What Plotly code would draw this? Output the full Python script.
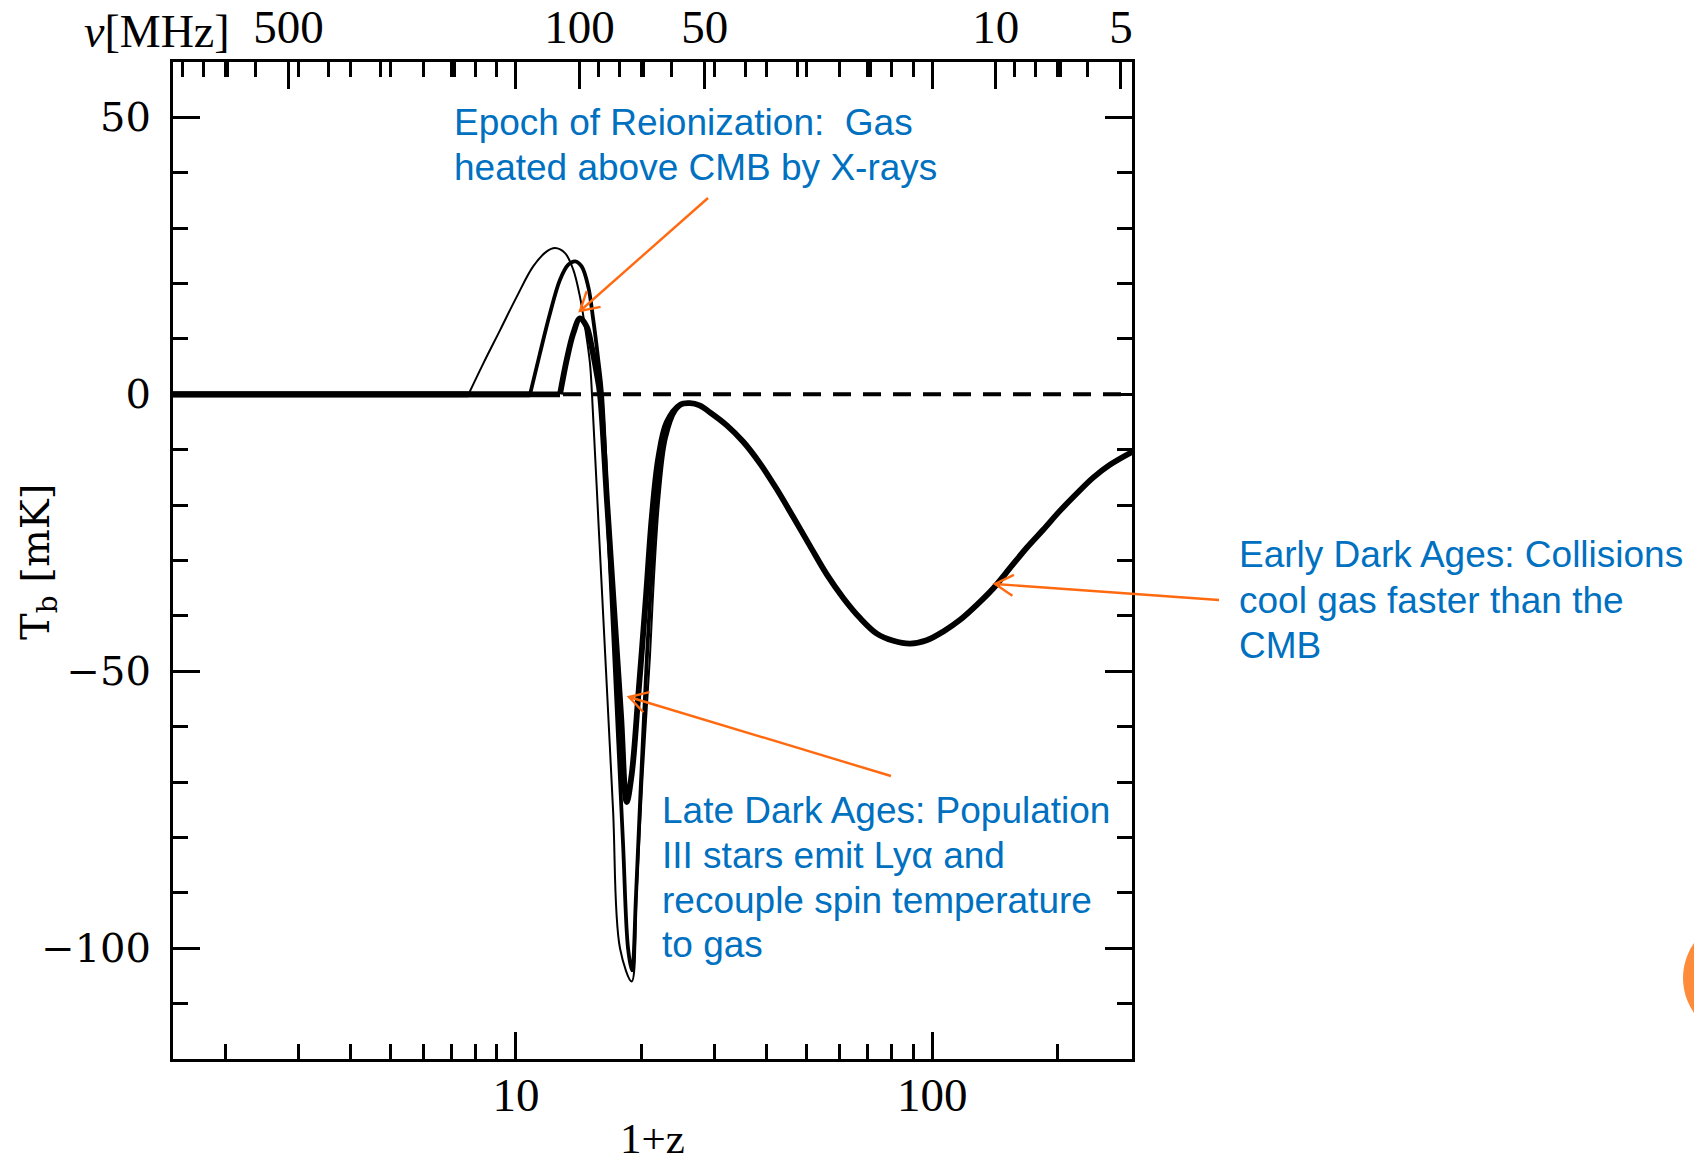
import math
import plotly.graph_objects as go

# ---------------- data ----------------
NU21 = 1420.4          # MHz, rest frequency of the 21-cm line
X_MIN, X_MAX = 1.5, 302
Y_MIN, Y_MAX = -120, 60

# common tail (Dark Ages part, identical for all models)
z_tail = [27.6, 29.3, 32.1, 35.2, 38.6, 42.3, 46.4, 50.9, 55.8, 61.2, 67.1, 73.6, 80.7,
          88.5, 97.0, 106.4, 116.7, 128.0, 140.3, 154.0, 168.7, 185.0, 202.9, 222.5,
          244.0, 267.5, 302.0]
T_tail = [-2.0, -3.3, -5.6, -8.6, -12.5, -17.1, -22.2, -27.4, -32.5, -36.8, -40.4, -43.2, -44.5,
          -45.0, -44.4, -42.8, -40.7, -38.0, -35.0, -31.3, -27.7, -24.4, -21.0, -17.9,
          -15.0, -12.7, -10.4]

# thin curve (earliest heating)
z_thin = [1.5, 7.69, 8.35, 9.16, 10.04, 11.0, 11.86, 12.41, 13.12, 13.73, 14.25, 14.65,
          15.06, 15.23, 15.83, 16.46, 17.11, 17.78, 18.97, 19.50, 20.16, 20.99, 21.46,
          22.11, 23.03, 24.33, 25.72]
T_thin = [0, 0, 5.6, 11.6, 17.6, 23.1, 25.8, 26.4, 25.5, 22.5, 17.6, 12.2,
          5.6, 0.0, -25, -50, -75, -100, -106, -90, -68.6, -47.2, -32.9,
          -18.7, -8.0, -3.0, -1.6]

# medium curve
z_med = [1.5, 10.81, 11.42, 12.07, 12.76, 13.36, 13.87, 14.38, 14.92, 15.34, 15.77,
         16.10, 16.73, 17.39, 18.08, 18.59, 19.00, 19.44, 19.97, 20.65, 21.17, 21.83,
         22.75, 23.98, 25.34]
T_med = [0, 0, 7.4, 14.6, 20.7, 23.4, 24.0, 23.1, 19.4, 13.4, 6.2,
         0.0, -27, -54, -81, -100, -104, -90, -70, -47, -33, -18.7,
         -8.0, -3.0, -1.6]

# thick curve (latest heating)
z_thick = [1.5, 12.76, 13.24, 13.73, 14.25, 14.79, 15.20, 15.63, 15.92, 16.55, 17.20,
           17.88, 18.45, 18.97, 19.68, 20.53, 21.20, 21.98, 23.01, 24.77, 26.2]
T_thick = [0, 0, 6.2, 11.0, 13.7, 12.2, 8.6, 3.8, 0.0, -19.3, -38.5,
           -57.8, -73.6, -68.6, -54.3, -36.5, -22.2, -11.5, -5.1, -1.9, -1.6]

zero_z = [X_MIN, X_MAX]
zero_T = [0, 0]

# axis ticks
x_major = [10, 100]
x_major_text = ["10", "100"]
x_minor = [2, 3, 4, 5, 6, 7, 8, 9, 20, 30, 40, 50, 60, 70, 80, 90, 200]
nu_major = [500, 100, 50, 10, 5]
nu_minor = [900, 800, 700, 600, 400, 300, 200, 90, 80, 70, 60, 40, 30, 20, 9, 8, 7, 6]
y_major = [-100, -50, 0, 50]
y_major_text = ["\u2212100", "\u221250", "0", "50"]
y_minor = [-120, -110, -90, -80, -70, -60, -40, -30, -20, -10, 10, 20, 30, 40, 60]

# ---------------- geometry helpers (layout only) ----------------
W, H = 1694, 1161
L_, R_, T_, B_ = 173, 1132, 62, 1059


def px(x):
    return (x - L_) / (R_ - L_)


def py(y):
    return (B_ - y) / (B_ - T_)


fig = go.Figure()

for zz, TT, w in [(z_thin + z_tail, T_thin + T_tail, 2.0),
                  (z_med + z_tail, T_med + T_tail, 3.8),
                  (z_thick + z_tail, T_thick + T_tail, 5.8)]:
    # flat (zero) part before heating starts
    fig.add_trace(go.Scatter(x=zz[:2], y=TT[:2], mode="lines",
                             line=dict(color="black", width=5.6),
                             hoverinfo="skip", showlegend=False))
    # signal
    fig.add_trace(go.Scatter(x=zz[1:], y=TT[1:], mode="lines",
                             line=dict(color="black", width=w, shape="spline", smoothing=1.0),
                             hoverinfo="skip", showlegend=False))

fig.add_trace(go.Scatter(x=zero_z, y=zero_T, xaxis="x2", mode="lines",
                         line=dict(color="black", width=4, dash="18px,12px"),
                         hoverinfo="skip", showlegend=False))

xr = [math.log10(X_MIN), math.log10(X_MAX)]
serif_x = dict(family="Liberation Serif", size=47, color="black")
serif_y = dict(family="DejaVu Serif", size=40, color="black")

fig.update_layout(
    width=W, height=H,
    margin=dict(l=L_, r=W - R_, t=T_, b=H - B_, autoexpand=False),
    paper_bgcolor="white", plot_bgcolor="white", showlegend=False,
    xaxis=dict(type="log", range=xr, showline=True, linecolor="black", linewidth=3,
               mirror="ticks", ticks="inside", ticklen=27, tickwidth=3, tickcolor="black",
               tickmode="array", tickvals=x_major, ticktext=x_major_text,
               tickfont=serif_x, ticklabelstandoff=-7,
               minor=dict(ticks="inside", ticklen=15, tickwidth=3, tickcolor="black",
                          tickvals=x_minor, showgrid=False),
               showgrid=False, zeroline=False),
    xaxis2=dict(type="log", range=xr, overlaying="x", side="top", showline=False,
                ticks="inside", ticklen=27, tickwidth=3, tickcolor="black",
                tickmode="array", tickvals=[NU21 / n for n in nu_major],
                ticktext=[str(n) for n in nu_major], tickfont=serif_x,
                ticklabelstandoff=9,
                minor=dict(ticks="inside", ticklen=15, tickwidth=3, tickcolor="black",
                           tickvals=[NU21 / n for n in nu_minor], showgrid=False),
                showgrid=False, zeroline=False),
    yaxis=dict(range=[Y_MIN, Y_MAX], showline=True, linecolor="black", linewidth=3,
               mirror="ticks", ticks="inside", ticklen=27, tickwidth=3, tickcolor="black",
               tickmode="array", tickvals=y_major, ticktext=y_major_text,
               tickfont=serif_y, ticklabelstandoff=11,
               minor=dict(ticks="inside", ticklen=15, tickwidth=3, tickcolor="black",
                          tickvals=y_minor, showgrid=False),
               showgrid=False, zeroline=False),
)

ann = []
# axis titles
ann.append(dict(text="1+z", x=0.5, y=py(1138), xref="paper", yref="paper",
                xanchor="center", yanchor="middle", showarrow=False,
                font=dict(family="Liberation Serif", size=43, color="black")))
ann.append(dict(text="T<sub>b</sub> [mK]", x=px(38), y=py(562), xref="paper", yref="paper",
                xanchor="center", yanchor="middle", showarrow=False, textangle=-90,
                font=dict(family="DejaVu Serif", size=40, color="black")))
ann.append(dict(text="<i>\u03bd</i>[MHz]", x=px(232), y=py(32), xref="paper", yref="paper",
                xanchor="right", yanchor="middle", showarrow=False,
                font=dict(family="Liberation Serif", size=46, color="black")))

BLUE = "#0070C0"
ORANGE = "#FF6A10"
blue_font = dict(family="Liberation Sans, Arial", size=37, color=BLUE)


def lines(x0, ys, texts):
    for y, t in zip(ys, texts):
        ann.append(dict(text=t, x=px(x0), y=py(y), xref="paper", yref="paper",
                        xanchor="left", yanchor="middle", showarrow=False, font=blue_font))


lines(452, [122, 167], ["Epoch of Reionization:  Gas", "heated above CMB by X-rays"])
lines(660, [810, 855, 900, 944], ["Late Dark Ages: Population", "III stars emit Ly\u03b1 and",
                                   "recouple spin temperature", "to gas"])
lines(1237, [554, 600, 645], ["Early Dark Ages: Collisions", "cool gas faster than the", "CMB"])

fig.update_layout(annotations=ann)

# orange pointer arrows drawn as layout shapes (shaft + open head)
ARM, HALF = 21, math.radians(30)


def arrow(hx, hy, tx, ty):
    fig.add_shape(type="line", xref="paper", yref="paper",
                  x0=px(tx), y0=py(ty), x1=px(hx), y1=py(hy),
                  line=dict(color=ORANGE, width=2.4))
    a = math.atan2(ty - hy, tx - hx)
    e1 = (hx + ARM * math.cos(a + HALF), hy + ARM * math.sin(a + HALF))
    e2 = (hx + ARM * math.cos(a - HALF), hy + ARM * math.sin(a - HALF))
    path = "M {:.5f},{:.5f} L {:.5f},{:.5f} L {:.5f},{:.5f}".format(
        px(e1[0]), py(e1[1]), px(hx), py(hy), px(e2[0]), py(e2[1]))
    fig.add_shape(type="path", xref="paper", yref="paper", path=path,
                  line=dict(color=ORANGE, width=2.4))


arrow(580, 311, 708, 198)
arrow(629, 697, 891, 776)
arrow(995, 584, 1219, 600)

fig.add_shape(type="circle", xref="paper", yref="paper",
              x0=px(1683), x1=px(1805), y0=py(917), y1=py(1039),
              fillcolor="#FD8B3A", line=dict(width=0), layer="above")

fig.write_html("out.html")
